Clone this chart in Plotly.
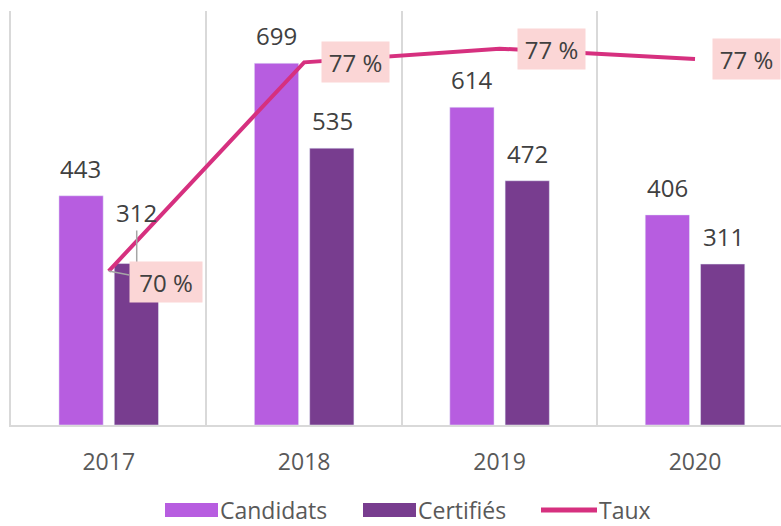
import plotly.graph_objects as go

years = ["2017", "2018", "2019", "2020"]
candidats = [443, 699, 614, 406]
certifies = [312, 535, 472, 311]
taux = [70.4, 76.5, 76.9, 76.6]
taux_labels = ["70 %", "77 %", "77 %", "77 %"]

C_CAND = "#b75de0"
C_CERT = "#783d8f"
C_TAUX = "#d6307f"
C_BOX = "#fbd6d6"
C_TXT = "#404040"
C_AX = "#595959"
FONT = "Open Sans"
FS = 24

W, H = 781, 526
ML, MR, MT, MB = 11, 0, 11, 101
PW, PH = W - ML - MR, H - MT - MB


def px(x):
    return (x - ML) / PW


def py(y):
    return (H - MB - y) / PH


fig = go.Figure()
fig.add_trace(go.Bar(x=years, y=candidats, name="Candidats", marker_color=C_CAND,
                     showlegend=False))
fig.add_trace(go.Bar(x=years, y=certifies, name="Certifiés", marker_color=C_CERT,
                     showlegend=False))
fig.add_trace(go.Scatter(x=years, y=taux, name="Taux", yaxis="y2", mode="lines",
                         line=dict(color=C_TAUX, width=4), showlegend=False))

ann = []
BAR_OFF = 28
lab_font = dict(family=FONT, size=FS, color=C_TXT)
for i, y in enumerate(years):
    ann.append(dict(x=i, y=candidats[i], xref="x", yref="y", text=str(candidats[i]),
                    showarrow=False, xshift=-BAR_OFF, yanchor="bottom", yshift=9,
                    font=lab_font))
    if i == 0:
        ann.append(dict(x=i, y=certifies[i], xref="x", yref="y", text=str(certifies[i]),
                        showarrow=True, arrowhead=0, arrowwidth=1.5, arrowcolor="#a6a6a6",
                        ax=0, ay=-51, xshift=BAR_OFF, font=lab_font))
    else:
        ann.append(dict(x=i, y=certifies[i], xref="x", yref="y", text=str(certifies[i]),
                        showarrow=False, xshift=BAR_OFF, yanchor="bottom", yshift=9,
                        font=lab_font))
    if i == 0:
        ann.append(dict(x=i, y=taux[i], xref="x", yref="y2", text=taux_labels[i],
                        showarrow=True, arrowhead=0, arrowwidth=1.5, arrowcolor="#a6a6a6",
                        ax=57, ay=11, bgcolor=C_BOX, borderpad=7, width=58, height=26,
                        font=lab_font))
    else:
        ann.append(dict(x=i, y=taux[i], xref="x", yref="y2", text=taux_labels[i],
                        showarrow=False, xanchor="left", xshift=17, yanchor="middle",
                        bgcolor=C_BOX, borderpad=7, width=53, height=26,
                        font=lab_font))

# custom legend
shapes = []
leg_items = [("Candidats", C_CAND, 165, 218, "rect"),
             ("Certifiés", C_CERT, 363, 416, "rect"),
             ("Taux", C_TAUX, 541, 597, "line")]
LY = 510
for name, col, x0, x1, kind in leg_items:
    if kind == "rect":
        shapes.append(dict(type="rect", xref="paper", yref="paper",
                           x0=px(x0), x1=px(x1), y0=py(LY + 7), y1=py(LY - 7),
                           fillcolor=col, line=dict(width=0)))
    else:
        shapes.append(dict(type="line", xref="paper", yref="paper",
                           x0=px(x0), x1=px(x1), y0=py(LY), y1=py(LY),
                           line=dict(color=col, width=5)))
    ann.append(dict(x=px(x1 + 1), y=py(LY), xref="paper", yref="paper", text=name,
                    showarrow=False, xanchor="left", yanchor="middle",
                    borderpad=0,
                    font=dict(family=FONT, size=23, color=C_AX)))

fig.update_layout(
    width=W, height=H,
    margin=dict(l=ML, r=MR, t=MT, b=MB),
    plot_bgcolor="white", paper_bgcolor="white",
    barmode="group", bargap=0.434, bargroupgap=0.2,
    font=dict(family=FONT, color=C_AX),
    xaxis=dict(type="category", range=[-0.5, 3.44], tickson="boundaries",
               showgrid=True, gridcolor="#d9d9d9", gridwidth=2,
               showline=True, linecolor="#d9d9d9", linewidth=2,
               ticks="", ticklabelstandoff=15,
               tickfont=dict(family=FONT, size=23, color=C_AX)),
    yaxis=dict(range=[0, 800], showgrid=False, showticklabels=False, zeroline=False,
               showline=True, linecolor="#d9d9d9", linewidth=2),
    yaxis2=dict(range=[65.9, 78], overlaying="y", side="right", showgrid=False,
                showticklabels=False, zeroline=False),
    annotations=ann, shapes=shapes, showlegend=False,
)

fig.write_html("out.html", config={"displayModeBar": False},
               post_script="document.body.style.margin='0';")
